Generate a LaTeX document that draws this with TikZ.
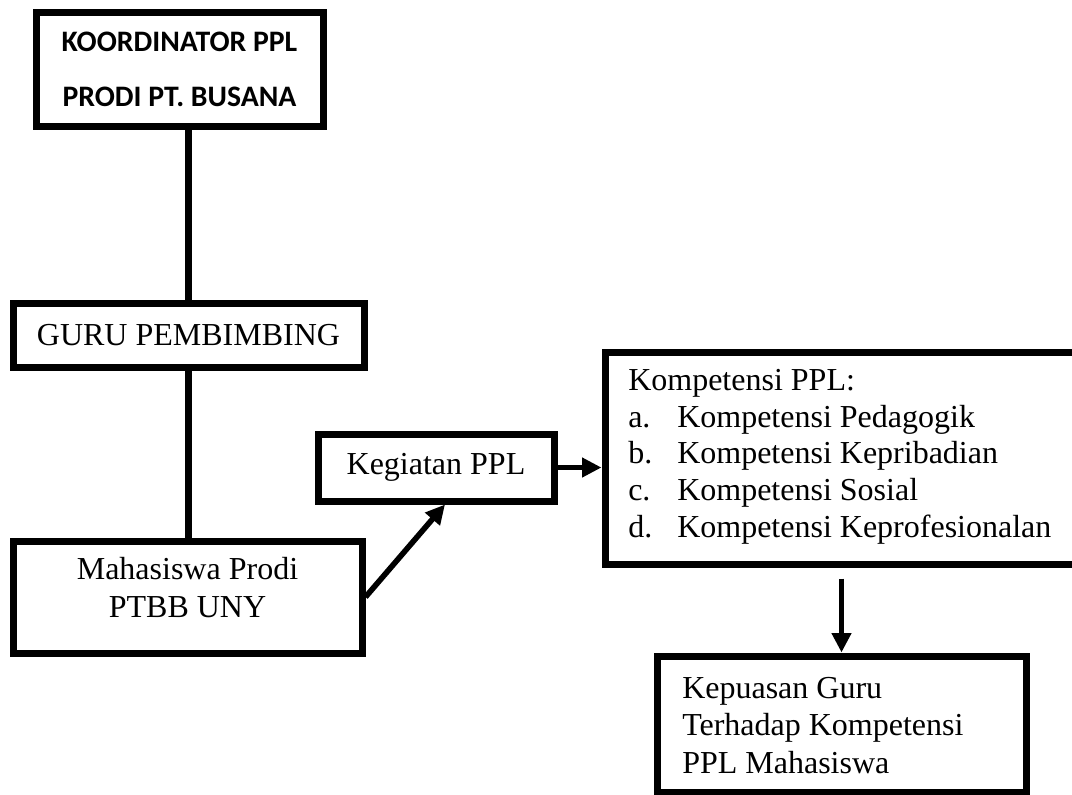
\documentclass[tikz,border=0pt]{standalone}
\usepackage{fontspec}
\setmainfont{Liberation Serif}
\newfontfamily\calib{Carlito}
\usetikzlibrary{arrows.meta,calc}
\begin{document}
\begin{tikzpicture}[x=0.75pt,y=-0.75pt,
  box/.style={draw, line width=5.25pt, inner sep=0pt, align=center, font=\fontsize{24}{27.5}\selectfont},
  txt/.style={inner sep=0pt, align=left, font=\fontsize{24}{27.5}\selectfont},
  conn/.style={line width=4.8pt},
  arr/.style={line width=4.2pt, -{Triangle[length=14.5pt,width=14pt]}}]
\clip (0,0) rectangle (1072,794);
\fill[white] (0,0) rectangle (1072,794);
\node[box, minimum width=215.25pt, minimum height=85.5pt, font=\calib\bfseries\fontsize{22.3}{41.25}\selectfont] (koord) at (179.5,69) {KOORDINATOR PPL\\PRODI PT. BUSANA};
\node[box, minimum width=263.25pt, minimum height=48pt] (guru) at (188.5,335) {GURU PEMBIMBING};
\node[box, minimum width=261.75pt, minimum height=84pt] (mhs) at (187.5,597) {};
\node[txt, align=center, font=\fontsize{24}{28.5}\selectfont] (mhstxt) at (187.5,587.5) {Mahasiswa Prodi\\PTBB UNY};
\node[box, minimum width=177pt, minimum height=50.25pt] (keg) at (436,467.5) {Kegiatan PPL};
\node[box, minimum width=363.75pt, minimum height=159pt] (kom) at (847.5,458) {};
\node[txt, anchor=west] (komtxt) at (628,456.5) {Kompetensi PPL:\\
\makebox[36.75pt][l]{a.}Kompetensi Pedagogik\\
\makebox[36.75pt][l]{b.}Kompetensi Kepribadian\\
\makebox[36.75pt][l]{c.}Kompetensi Sosial\\
\makebox[36.75pt][l]{d.}Kompetensi Keprofesionalan};
\node[box, minimum width=276.75pt, minimum height=102pt] (kep) at (841.5,724) {};
\node[txt, anchor=west, font=\fontsize{24}{28}\selectfont] (keptxt) at (682,725.5) {Kepuasan Guru\\Terhadap Kompetensi\\PPL Mahasiswa};
\draw[conn] (guru.north) -- (guru.north |- koord.south);
\draw[conn] (guru.south) -- (guru.south |- mhs.north);
\draw[arr] (mhs.east) -- ($(keg.south)+(9,0)$);
\draw[arr] (keg.east) -- (kom.west |- keg.east);
\draw[arr] ($(kep.north |- kom.south)+(0,11)$) -- (kep.north);
\end{tikzpicture}
\end{document}
